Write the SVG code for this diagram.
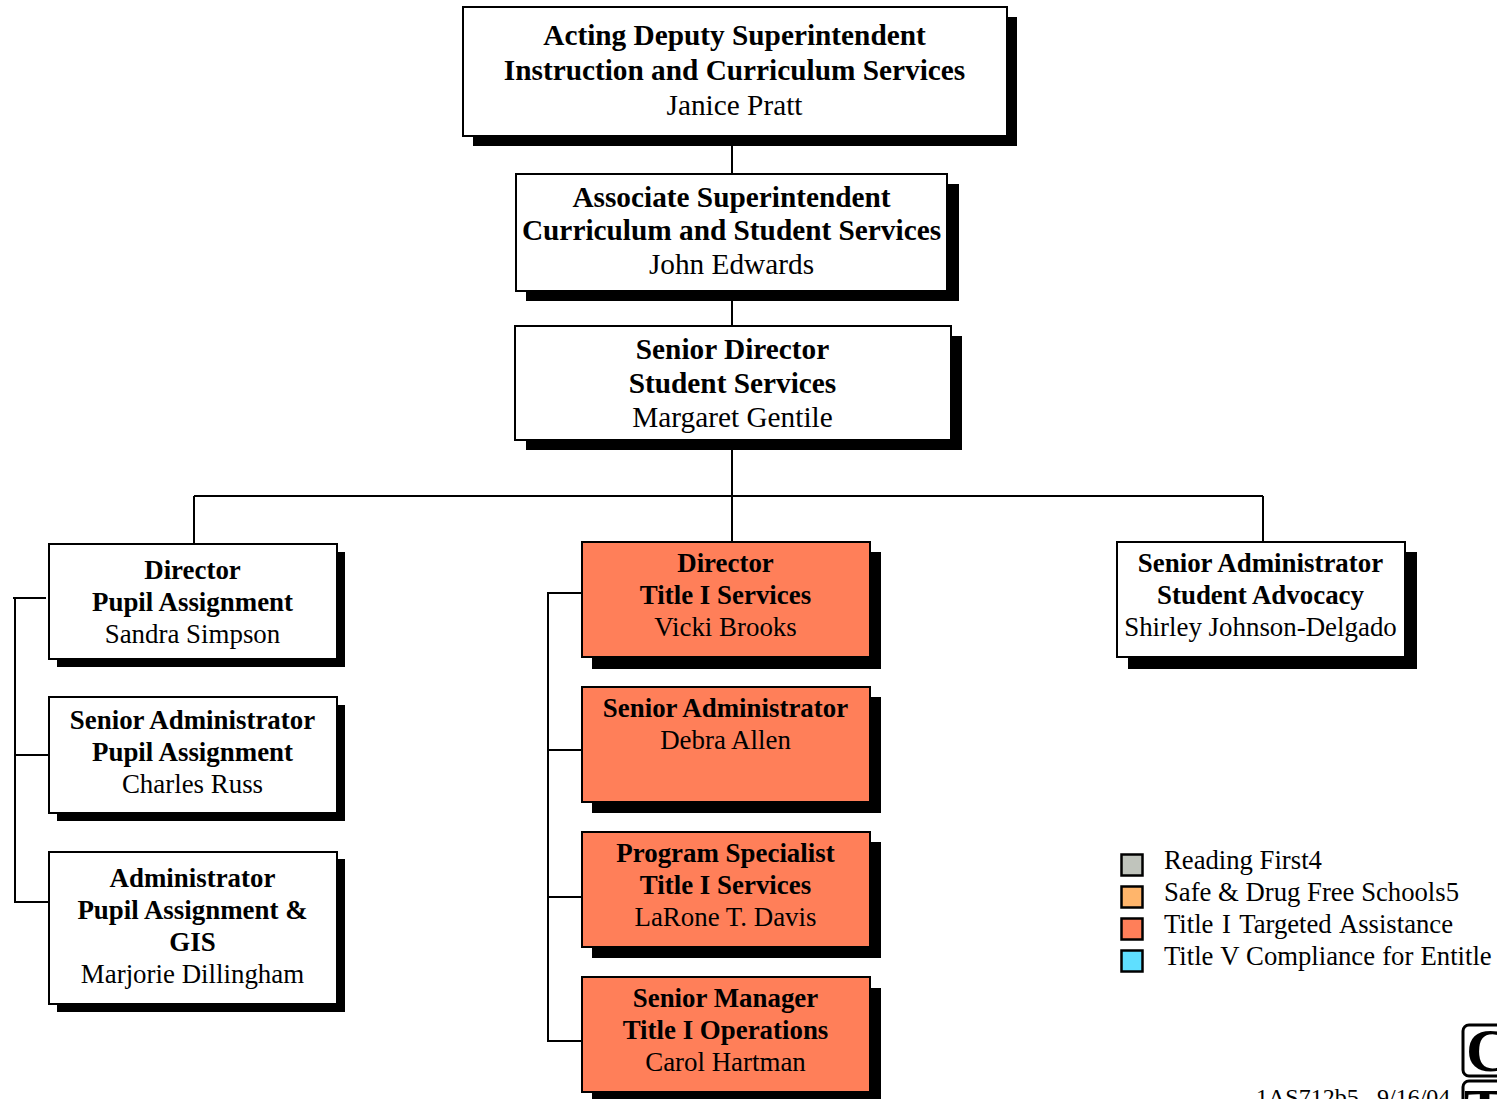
<svg xmlns="http://www.w3.org/2000/svg" width="1497" height="1099" viewBox="0 0 1497 1099">
<style>
text{font-family:"Liberation Serif","Times New Roman",serif;fill:#000;text-anchor:middle}
.a{font-size:29.3px}
.b{font-size:26.9px}
.h{font-weight:bold}
.s{fill:#000}
.w{fill:#fff;stroke:#000;stroke-width:2}
.o{fill:#ff7f59;stroke:#000;stroke-width:2}
.l{fill:none;stroke:#000;stroke-width:2}
.k{stroke:#000;stroke-width:2.5}
.lg{text-anchor:start;font-size:26.7px}
.f{text-anchor:start;font-size:24px}
.m{text-anchor:start;font-size:62px;font-weight:bold}
</style>
<g id="connectors" class="l">
<path d="M732 136V173M732 291V326M732 440V542M194 496H1263M194 496V544M1263 496V542"/>
<path d="M13 598H46M15 598V902H48M15 755H48"/>
<path d="M582 593H548V1041H582M548 750H582M548 897H582"/>
</g>
<g id="n1"><rect class="s" x="473" y="17" width="544" height="129"/><rect class="w" x="463" y="7" width="544" height="129"/>
<text class="a h" x="734.500" y="45">Acting Deputy Superintendent</text><text class="a h" x="734.500" y="80">Instruction and Curriculum Services</text><text class="a" x="734.500" y="115">Janice Pratt</text></g>
<g id="n2"><rect class="s" x="526" y="184" width="433" height="117"/><rect class="w" x="516" y="174" width="431" height="117"/>
<text class="a h" x="731.500" y="207">Associate Superintendent</text><text class="a h" x="731.500" y="240">Curriculum and Student Services</text><text class="a" x="731.500" y="274">John Edwards</text></g>
<g id="n3"><rect class="s" x="526" y="336" width="436" height="114"/><rect class="w" x="515" y="326" width="436" height="114"/>
<text class="a h" x="732.500" y="359">Senior Director</text><text class="a h" x="732.500" y="393">Student Services</text><text class="a" x="732.500" y="427">Margaret Gentile</text></g>
<g id="n4"><rect class="s" x="57" y="552" width="288" height="115"/><rect class="w" x="49" y="544" width="288" height="115"/>
<text class="b h" x="192.500" y="579">Director</text><text class="b h" x="192.500" y="611">Pupil Assignment</text><text class="b" x="192.500" y="643">Sandra Simpson</text></g>
<g id="n5"><rect class="s" x="57" y="705" width="288" height="116"/><rect class="w" x="49" y="697" width="288" height="116"/>
<text class="b h" x="192.500" y="729">Senior Administrator</text><text class="b h" x="192.500" y="761">Pupil Assignment</text><text class="b" x="192.500" y="793">Charles Russ</text></g>
<g id="n6"><rect class="s" x="57" y="859" width="288" height="153"/><rect class="w" x="49" y="852" width="288" height="152"/>
<text class="b h" x="192.500" y="887">Administrator</text><text class="b h" x="192.500" y="919">Pupil Assignment &amp;</text><text class="b h" x="192.500" y="951">GIS</text><text class="b" x="192.500" y="983">Marjorie Dillingham</text></g>
<g id="n7"><rect class="s" x="592" y="552" width="289" height="117"/><rect class="o" x="582" y="542" width="288" height="115"/>
<text class="b h" x="725.500" y="572">Director</text><text class="b h" x="725.500" y="604">Title I Services</text><text class="b" x="725.500" y="636">Vicki Brooks</text></g>
<g id="n8"><rect class="s" x="592" y="697" width="289" height="116"/><rect class="o" x="582" y="687" width="288" height="115"/>
<text class="b h" x="725.500" y="717">Senior Administrator</text><text class="b" x="725.500" y="749">Debra Allen</text></g>
<g id="n9"><rect class="s" x="592" y="842" width="289" height="116"/><rect class="o" x="582" y="832" width="288" height="115"/>
<text class="b h" x="725.500" y="862">Program Specialist</text><text class="b h" x="725.500" y="894">Title I Services</text><text class="b" x="725.500" y="926">LaRone T. Davis</text></g>
<g id="n10"><rect class="s" x="592" y="988" width="289" height="111"/><rect class="o" x="582" y="977" width="288" height="115"/>
<text class="b h" x="725.500" y="1007">Senior Manager</text><text class="b h" x="725.500" y="1039">Title I Operations</text><text class="b" x="725.500" y="1071">Carol Hartman</text></g>
<g id="n11"><rect class="s" x="1128" y="552" width="289" height="117"/><rect class="w" x="1117" y="542" width="288" height="115"/>
<text class="b h" x="1260.500" y="572">Senior Administrator</text><text class="b h" x="1260.500" y="604">Student Advocacy</text><text class="b" x="1260.500" y="636">Shirley Johnson-Delgado</text></g>
<g id="legend">
<rect class="k" x="1121.500" y="854.500" width="21" height="21" fill="#c0c4bc"/><rect class="k" x="1121.500" y="886.500" width="21" height="21" fill="#ffb56b"/><rect class="k" x="1121.500" y="918.500" width="21" height="21" fill="#ff7f59"/><rect class="k" x="1121.500" y="950.500" width="21" height="21" fill="#5fdfff"/>
<text class="lg" x="1164" y="869">Reading First4</text><text class="lg" x="1164" y="901">Safe &amp; Drug Free Schools5</text><text class="lg" x="1164" y="933" word-spacing="2">Title I Targeted Assistance</text><text class="lg" x="1164" y="965" word-spacing="0.500">Title V Compliance for Entitle</text>
</g>
<text class="f" x="1256" y="1105">1AS712b5</text><text class="f" x="1377" y="1105">9/16/04</text>
<g id="logo"><rect x="1463" y="1025" width="60" height="51" rx="6" fill="#fff" stroke="#000" stroke-width="3"/><rect x="1463" y="1081" width="60" height="53" rx="6" fill="#fff" stroke="#000" stroke-width="3"/>
<text class="m" x="1466" y="1071">C</text><text class="m" x="1464" y="1131">T</text></g>
</svg>
